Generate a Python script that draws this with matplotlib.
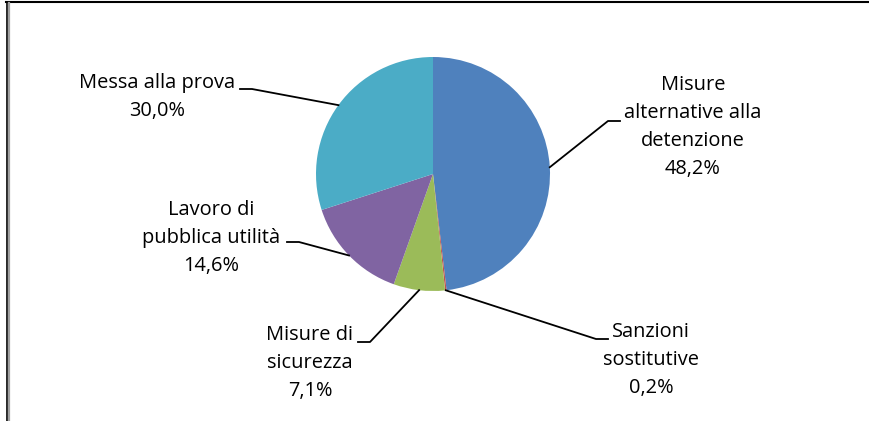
import numpy as np
import matplotlib
matplotlib.use("Agg")
import matplotlib.pyplot as plt
from matplotlib.lines import Line2D

# ---- data ----
categories = ["Misure\nalternative alla\ndetenzione", "Sanzioni\nsostitutive",
              "Misure di\nsicurezza", "Lavoro di\npubblica utilità", "Messa alla prova"]
values = [48.2, 0.2, 7.1, 14.6, 30.0]
value_labels = ["48,2%", "0,2%", "7,1%", "14,6%", "30,0%"]
colors = ["#4F81BD", "#C0504D", "#9BBB59", "#8064A2", "#4BACC6"]

W, H = 869, 421
fig = plt.figure(figsize=(W / 100, H / 100), dpi=100)
ax = fig.add_axes([0, 0, 1, 1])
ax.set_xlim(0, W)
ax.set_ylim(0, H)
ax.set_aspect("equal")
ax.axis("off")

def Y(py):
    return H - py

cx, cy, r = 433, Y(174), 117
wedges, _ = ax.pie(values, colors=colors, startangle=90, counterclock=False,
                   center=(cx, cy), radius=r, frame=True,
                   wedgeprops=dict(linewidth=0))
ax.set_xlim(0, W)
ax.set_ylim(0, H)
ax.axis("off")

# label layout: (text center x, first line y, elbow end x, elbow y, side)
layout = [
    (693, 85, 620, 121, "r"),
    (651, 332, 608, 339, "r"),
    (310, 335, 358, 342, "l"),
    (211, 210, 287, 242, "l"),
    (157, 83, 240, 89, "l"),
]
fs = 14.4
fam = ["Open Sans", "DejaVu Sans"]
for w, cat, vl, (tx, ty, ex, ey, side) in zip(wedges, categories, value_labels, layout):
    mid = np.deg2rad((w.theta1 + w.theta2) / 2)
    ax_x = cx + r * np.cos(mid)
    ax_y = cy + r * np.sin(mid)
    lines = cat.split("\n") + [vl]
    for i, ln in enumerate(lines):
        ax.text(tx, Y(ty + i * 28), ln, ha="center", va="center",
                fontsize=fs, family=fam, color="black")
    if side == "r":
        ex2 = ex - 12
    else:
        ex2 = ex + 12
    ax.add_line(Line2D([ax_x, ex2, ex], [ax_y, Y(ey), Y(ey)], color="black", lw=1.3))

# frame borders
ax.add_line(Line2D([6, W], [Y(2), Y(2)], color="black", lw=1.5))
ax.add_line(Line2D([6.5, 6.5], [Y(2), 0], color="black", lw=1.2))
ax.add_line(Line2D([9, 9], [Y(3), 0], color="#A0A0A0", lw=1.6))

fig.savefig("out.png", dpi=100)
